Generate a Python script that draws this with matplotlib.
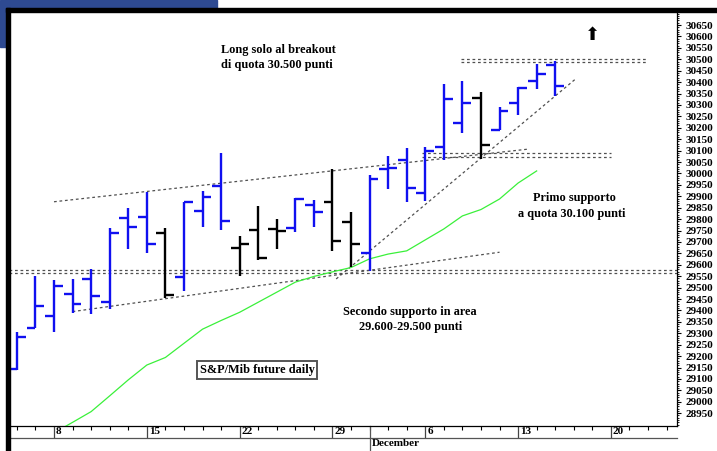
import matplotlib
matplotlib.use("Agg")
import matplotlib.pyplot as plt
import numpy as np
import pandas as pd
from matplotlib.lines import Line2D
from matplotlib.patches import Rectangle
from matplotlib.ticker import MultipleLocator, FixedLocator, NullFormatter

# ---------------- data ----------------
days = pd.bdate_range("2021-11-04", "2021-12-23")          # trading-day axis
opens  = [29144, 29325, 29377, 29471, 29538, 29439, 29804, 29809, 29741, 29548,
          29834, 29945, 29672, 29751, 29755, 29763, 29862, 29876, 29786, 29652,
          30020, 30059, 29913, 30117, 30222, 30332, 30190, 30310, 30405, 30474]
highs  = [29307, 29551, 29534, 29539, 29582, 29761, 29849, 29920, 29760, 29876,
          29925, 30088, 29726, 29859, 29801, 29894, 29884, 30018, 29833, 29995,
          30076, 30110, 30117, 30392, 30405, 30355, 30290, 30380, 30478, 30494]
lows   = [29140, 29323, 29306, 29390, 29385, 29407, 29669, 29652, 29456, 29487,
          29764, 29753, 29552, 29621, 29669, 29742, 29764, 29661, 29592, 29574,
          29931, 29874, 29881, 30059, 30178, 30063, 30190, 30256, 30370, 30339]
closes = [29285, 29420, 29507, 29429, 29465, 29741, 29767, 29693, 29468, 29876,
          29896, 29791, 29690, 29631, 29748, 29887, 29831, 29704, 29690, 29977,
          30025, 29938, 30098, 30325, 30310, 30126, 30275, 30373, 30435, 30383]
trend  = [1, 1, 1, 1, 1, 1, 1, 1, -1, 1,
          1, 1, -1, -1, -1, 1, 1, -1, -1, 1,
          1, 1, 1, 1, 1, -1, 1, 1, 1, 1]
moving_avg = [np.nan, np.nan, 28864, 28910, 28957, 29026, 29096, 29161, 29194, 29256,
              29318, 29356, 29392, 29436, 29480, 29524, 29549, 29569, 29588, 29626,
              29647, 29661, 29709, 29757, 29814, 29842, 29888, 29958, 30011, np.nan]

upper_channel = ([2.0, 27.6], [29876, 30107])
lower_channel = ([3.0, 26.0], [29395, 29655])
rising_line   = ([17.2, 30.1], [29538, 30414])
resist_levels = ([23.9, 34.0], [30500, 30487])
support1      = ([21.8, 32.0], [30090, 30072])
support2      = ([-0.4, 35.6], [29575, 29562])

ytick_vals = list(range(28950, 30651, 50))
month_label = "December"

# ---------------- figure ----------------
W, H = 717, 451
fig = plt.figure(figsize=(W / 100, H / 100), dpi=100)
fx = lambda x: x / W
fy = lambda y: 1 - y / H

serif = "Liberation Serif"

fig.patches.append(Rectangle((0, fy(47)), fx(217), 1 - fy(47), transform=fig.transFigure,
                             color="#2E4A91", zorder=-5))

ax = fig.add_axes([fx(10), fy(426), fx(677) - fx(10), fy(12) - fy(426)])
ax.set_facecolor("white")
ax.set_xlim(-0.37, 35.56)
ax.set_ylim(28894, 30707)

# bars
blue = "#1010f0"
for i in range(len(opens)):
    c = blue if trend[i] > 0 else "black"
    ax.plot([i, i], [lows[i], highs[i]], color=c, lw=1.7, solid_capstyle="butt", zorder=4)
    ax.plot([i - 0.48, i], [opens[i], opens[i]], color=c, lw=1.7, solid_capstyle="butt", zorder=4)
    ax.plot([i, i + 0.48], [closes[i], closes[i]], color=c, lw=1.7, solid_capstyle="butt", zorder=4)

ax.plot(range(len(moving_avg)), moving_avg, color="#3af03a", lw=0.9, zorder=3)

dot = dict(color="#505050", lw=0.9, ls=(0, (2.2, 2.2)), zorder=2)
for xs, ys in (upper_channel, lower_channel, rising_line):
    ax.plot(xs, ys, **dot)
for xs, levels in (resist_levels, support1, support2):
    for lv in levels:
        ax.plot(xs, [lv, lv], **dot)

# y axis on right
ax.yaxis.tick_right()
ax.set_yticks(ytick_vals)
ax.yaxis.set_minor_locator(MultipleLocator(10))
ax.set_yticklabels([str(v) for v in ytick_vals], fontfamily=serif, fontweight="bold", fontsize=8)
ax.tick_params(axis="y", which="major", length=3, width=0.8, pad=3)
ax.tick_params(axis="y", which="minor", length=1.6, width=0.6)

# x axis
pos = np.arange(len(days))
mondays = [k for k, d in enumerate(days) if d.weekday() == 0]
ax.xaxis.set_major_locator(FixedLocator(mondays))
ax.xaxis.set_minor_locator(FixedLocator([k for k in pos if k not in mondays]))
ax.xaxis.set_major_formatter(NullFormatter())
ax.tick_params(axis="x", which="major", length=8.7, width=0.9, color="#444444")
ax.tick_params(axis="x", which="minor", length=3, width=0.8)
for k in mondays:
    ax.annotate(str(days[k].day), xy=(k, 0), xycoords=("data", "axes fraction"),
                xytext=(2, -6), textcoords="offset pixels", ha="left", va="center",
                fontfamily=serif, fontweight="bold", fontsize=8)
dec_first = [k for k, d in enumerate(days) if d.month == 12][0]
ax.add_line(Line2D([dec_first, dec_first], [0, -25 / 414], transform=ax.get_xaxis_transform(),
                   color="#555555", lw=0.9, clip_on=False))
ax.annotate(month_label, xy=(dec_first, 0), xycoords=("data", "axes fraction"),
            xytext=(2, -17), textcoords="offset pixels", ha="left", va="center",
            fontfamily=serif, fontweight="bold", fontsize=8)

for s in ("left", "top"):
    ax.spines[s].set_visible(False)
for s in ("right", "bottom"):
    ax.spines[s].set_linewidth(0.9)

# bottom row line and thick frame
fig.add_artist(Line2D([fx(10), fx(677)], [fy(438), fy(438)], color="#555555", lw=0.9))
fig.add_artist(Rectangle((fx(6), 0), fx(4), fy(8), transform=fig.transFigure, color="black", zorder=10))
fig.add_artist(Rectangle((fx(6), fy(12)), 1 - fx(6), fy(8) - fy(12), transform=fig.transFigure,
                         color="black", zorder=10))

# annotations
tk = dict(fontfamily=serif, fontweight="bold", fontsize=8.8)
fig.text(fx(221), fy(50), "Long solo al breakout", ha="left", va="center", **tk)
fig.text(fx(221), fy(65), "di quota 30.500 punti", ha="left", va="center", **tk)
fig.text(fx(574), fy(198), "Primo supporto", ha="center", va="center", **tk)
fig.text(fx(572), fy(214), "a quota 30.100 punti", ha="center", va="center", **tk)
fig.text(fx(410), fy(312), "Secondo supporto in area", ha="center", va="center", **tk)
fig.text(fx(411), fy(327), "29.600-29.500 punti", ha="center", va="center", **tk)
fig.text(fx(257), fy(370), "S&P/Mib future daily", ha="center", va="center",
         bbox=dict(boxstyle="square,pad=0.25", fc="white", ec="#555555", lw=1.4), **tk)
fig.text(fx(592), fy(35), "\u2b06", ha="center", va="center", fontsize=13,
         fontfamily="DejaVu Sans", color="black")

fig.savefig("out.png", dpi=100)
